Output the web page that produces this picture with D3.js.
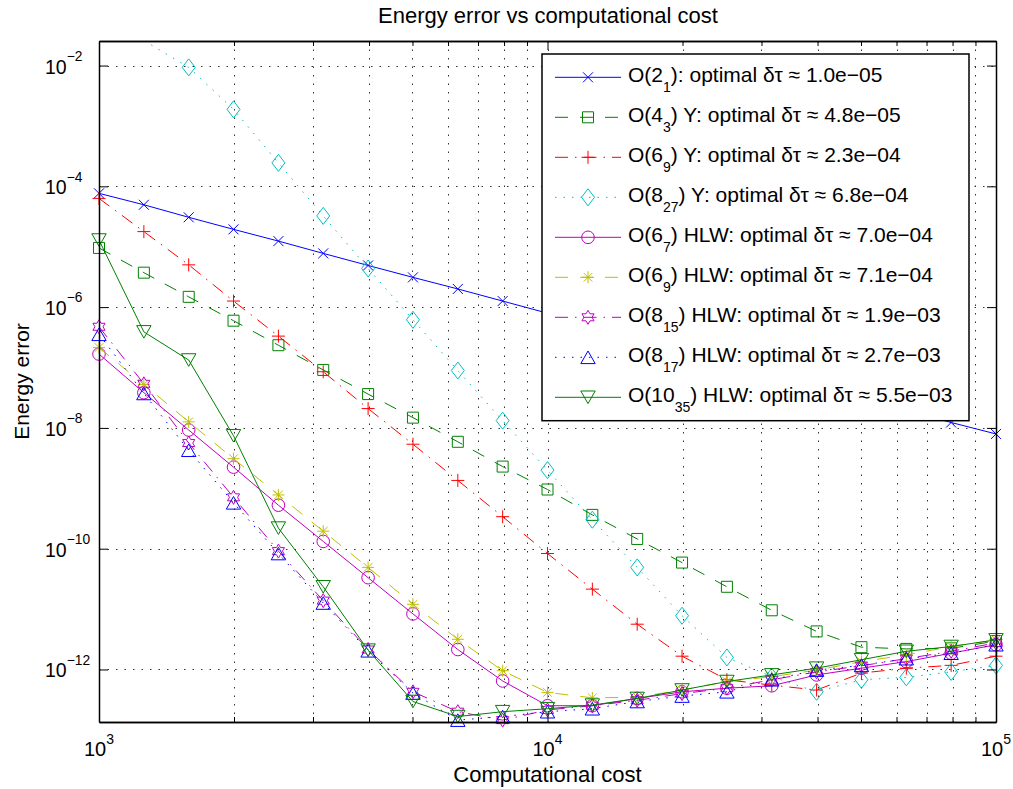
<!DOCTYPE html>
<html><head><meta charset="utf-8">
<script src="https://cdn.jsdelivr.net/npm/d3@7"></script>
<style>
body{margin:0;background:#fff}
text{font-family:"Liberation Sans",Arial,Helvetica,sans-serif;fill:#000}
</style>
</head><body>
<svg id="c" width="1013" height="789"></svg>
<script>
// ---------------- data ----------------
const cost = [1000,1259,1585,1995,2512,3162,3981,5012,6310,7943,10000,12589,15849,19953,25119,31623,39811,50119,63096,79433,100000];

const errO2_1     = [7.66e-5,4.95e-5,3.07e-5,1.94e-5,1.24e-5,7.76e-6,4.90e-6,3.11e-6,2.00e-6,1.26e-6,7.94e-7,5.01e-7,3.16e-7,2.00e-7,1.26e-7,7.94e-8,5.01e-8,3.09e-8,1.95e-8,1.23e-8,7.94e-9];
const errO4_3Y    = [9.55e-6,3.72e-6,1.48e-6,5.96e-7,2.34e-7,9.12e-8,3.63e-8,1.48e-8,5.89e-9,2.29e-9,9.55e-10,3.63e-10,1.45e-10,5.89e-11,2.34e-11,9.55e-12,4.27e-12,2.34e-12,2.19e-12,2.24e-12,2.95e-12];
const errO6_9Y    = [6.31e-5,1.78e-5,5.01e-6,1.26e-6,3.31e-7,8.51e-8,2.09e-8,5.37e-9,1.35e-9,3.39e-10,8.32e-11,2.14e-11,5.62e-12,1.66e-12,6.76e-13,5.50e-13,4.57e-13,8.71e-13,1.05e-12,1.17e-12,1.66e-12];
const errO8_27Y   = [null,2.6e-2,9.33e-3,1.88e-3,2.45e-4,3.24e-5,4.37e-6,6.17e-7,8.91e-8,1.32e-8,2.00e-9,3.02e-10,4.90e-11,7.76e-12,1.58e-12,7.59e-13,4.27e-13,6.76e-13,7.41e-13,9.12e-13,1.17e-12];
const errO6_7HLW  = [1.67e-7,3.83e-8,9.23e-9,2.24e-9,5.25e-10,1.32e-10,3.31e-11,8.32e-12,2.14e-12,6.46e-13,2.51e-13,2.51e-13,3.31e-13,4.27e-13,4.90e-13,5.37e-13,8.13e-13,1.05e-12,1.35e-12,1.86e-12,2.57e-12];
const errO6_9HLW  = [2.14e-7,5.25e-8,1.26e-8,3.09e-9,7.76e-10,1.95e-10,4.90e-11,1.20e-11,3.16e-12,9.55e-13,4.17e-13,3.39e-13,3.47e-13,4.57e-13,6.31e-13,7.59e-13,9.77e-13,1.35e-12,1.74e-12,2.40e-12,3.09e-12];
const errO8_15HLW = [4.73e-7,5.37e-8,5.62e-9,7.08e-10,9.12e-11,1.38e-11,2.14e-12,4.27e-13,2.00e-13,1.45e-13,2.14e-13,2.51e-13,3.09e-13,3.98e-13,4.90e-13,6.76e-13,9.12e-13,1.15e-12,1.51e-12,2.00e-12,2.75e-12];
const errO8_17HLW = [3.55e-7,3.72e-8,4.27e-9,5.75e-10,8.32e-11,1.26e-11,2.04e-12,4.07e-13,1.45e-13,1.66e-13,2.00e-13,2.24e-13,2.95e-13,3.63e-13,4.27e-13,6.76e-13,9.77e-13,1.17e-12,1.51e-12,1.86e-12,2.57e-12];
const errO10_35HLW= [1.29e-5,3.89e-7,1.33e-7,7.41e-9,2.19e-10,2.34e-11,2.09e-12,2.95e-13,1.66e-13,2.00e-13,2.24e-13,2.57e-13,3.31e-13,4.57e-13,6.31e-13,8.13e-13,1.05e-12,1.45e-12,2.00e-12,2.40e-12,3.09e-12];

const seriesValues = [errO2_1, errO4_3Y, errO6_9Y, errO8_27Y, errO6_7HLW, errO6_9HLW, errO8_15HLW, errO8_17HLW, errO10_35HLW];

const orders    = ["2","4","6","8","6","6","8","8","10"];
const stages    = ["1","3","9","27","7","9","15","17","35"];
const methods   = [""," Y"," Y"," Y"," HLW"," HLW"," HLW"," HLW"," HLW"];
const optimalDt = ["1.0e\u221205","4.8e\u221205","2.3e\u221204","6.8e\u221204","7.0e\u221204","7.1e\u221204","1.9e\u221203","2.7e\u221203","5.5e\u221203"];

const xTickValues = [1e3,1e4,1e5];
const xTickExps   = ["3","4","5"];
const yTickValues = [1e-12,1e-10,1e-8,1e-6,1e-4,1e-2];
const yTickExps   = ["\u221212","\u221210","\u22128","\u22126","\u22124","\u22122"];

const titleText = "Energy error vs computational cost";
const xLabel = "Computational cost";
const yLabel = "Energy error";

// ---------------- styles ----------------
const colors  = ["#0000ff","#008000","#ff0000","#00bfbf","#bf00bf","#bfbf00","#bf00bf","#0000ff","#008000"];
const dashes  = [null,"13,12","13,7,1.5,7","1.5,7",null,"13,12","13,7,1.5,7","1.5,7",null];
const markers = ["x","square","plus","diamond","circle","asterisk","hexagram","triUp","triDown"];

function markerPath(type){
  const p = d3.path();
  switch(type){
    case "x": { const s=5; p.moveTo(-s,-s);p.lineTo(s,s);p.moveTo(-s,s);p.lineTo(s,-s); break; }
    case "square": { const s=5.5; p.rect(-s,-s,2*s,2*s); break; }
    case "plus": { const s=6.5; p.moveTo(-s,0);p.lineTo(s,0);p.moveTo(0,-s);p.lineTo(0,s); break; }
    case "diamond": { const w=6.5,h=8.5; p.moveTo(0,-h);p.lineTo(w,0);p.lineTo(0,h);p.lineTo(-w,0);p.closePath(); break; }
    case "circle": { const r=6.3; p.moveTo(r,0);p.arc(0,0,r,0,2*Math.PI); break; }
    case "asterisk": { const s=6, d=4.3; p.moveTo(-s,0);p.lineTo(s,0);p.moveTo(0,-s);p.lineTo(0,s);
                       p.moveTo(-d,-d);p.lineTo(d,d);p.moveTo(-d,d);p.lineTo(d,-d); break; }
    case "hexagram": { const R=7, r=R/Math.sqrt(3);
      for(let i=0;i<12;i++){ const a=-Math.PI/2+i*Math.PI/6, rr=(i%2===0)?R:r;
        const px=rr*Math.cos(a), py=rr*Math.sin(a); if(i===0)p.moveTo(px,py); else p.lineTo(px,py);} p.closePath(); break; }
    case "triUp": { const w=7.2,h=6.3; p.moveTo(0,-h);p.lineTo(w,h);p.lineTo(-w,h);p.closePath(); break; }
    case "triDown": { const w=7.2,h=6.3; p.moveTo(0,h);p.lineTo(w,-h);p.lineTo(-w,-h);p.closePath(); break; }
  }
  return p.toString();
}

// ---------------- layout ----------------
const L=99, R=996, T=41, B=722;
const svg = d3.select("#c");
const x = d3.scaleLog().domain([1e3,1e5]).range([L,R]);
const y = d3.scaleLog().domain([1.35e-13,2.55e-2]).range([B,T]);

svg.append("rect").attr("width",1013).attr("height",789).attr("fill","#fff");
svg.append("rect").attr("x",L).attr("y",T).attr("width",R-L).attr("height",B-T).attr("fill","#fff");

// minor tick positions on the log x axis
const xMinorValues = [];
[1e3,1e4].forEach(d=>{ for(let m=2;m<=9;m++) xMinorValues.push(m*d); });
const xAllTicks = xTickValues.concat(xMinorValues);

// grid
const grid = svg.append("g").attr("stroke","#333").attr("stroke-width",1).attr("stroke-dasharray","1.5,7");
grid.selectAll("line.gx").data(xAllTicks.filter(v=>v>1e3&&v<1e5)).enter().append("line")
  .attr("x1",d=>Math.round(x(d))+0.5).attr("x2",d=>Math.round(x(d))+0.5).attr("y1",T).attr("y2",B);
grid.selectAll("line.gy").data(yTickValues).enter().append("line")
  .attr("y1",d=>Math.round(y(d))+0.5).attr("y2",d=>Math.round(y(d))+0.5).attr("x1",L).attr("x2",R);

// clip
svg.append("clipPath").attr("id","plotclip").append("rect").attr("x",L).attr("y",T).attr("width",R-L).attr("height",B-T);

const line = d3.line().defined(d=>d[1]!=null).x(d=>x(d[0])).y(d=>y(d[1]));
const [ymin,ymax] = y.domain();

seriesValues.forEach((vals,i)=>{
  const pts = cost.map((c,k)=>[c,vals[k]]);
  svg.append("path").datum(pts).attr("clip-path","url(#plotclip)")
    .attr("d",line).attr("fill","none").attr("stroke",colors[i]).attr("stroke-width",1)
    .attr("stroke-dasharray",dashes[i]);
  const mp = markerPath(markers[i]);
  svg.append("g").selectAll("path").data(pts.filter(d=>d[1]!=null && d[1]>=ymin && d[1]<=ymax)).enter().append("path")
    .attr("d",mp).attr("transform",d=>`translate(${x(d[0])},${y(d[1])})`)
    .attr("fill","none").attr("stroke",colors[i]).attr("stroke-width",1);
});

// axes
function styleAxis(g){ g.select(".domain").attr("stroke","#000").attr("stroke-width",1.5); g.selectAll(".tick line").attr("stroke","#000").attr("stroke-width",1); g.selectAll(".tick text").remove(); }
svg.append("g").attr("transform",`translate(0,${B})`).call(d3.axisBottom(x).tickValues(xTickValues).tickSizeInner(-9).tickSizeOuter(0).tickFormat("")).call(styleAxis);
svg.append("g").attr("transform",`translate(0,${B})`).call(d3.axisBottom(x).tickValues(xMinorValues).tickSizeInner(-5).tickSizeOuter(0).tickFormat("")).call(styleAxis);
svg.append("g").attr("transform",`translate(0,${T})`).call(d3.axisTop(x).tickValues(xTickValues).tickSizeInner(-9).tickSizeOuter(0).tickFormat("")).call(styleAxis);
svg.append("g").attr("transform",`translate(0,${T})`).call(d3.axisTop(x).tickValues(xMinorValues).tickSizeInner(-5).tickSizeOuter(0).tickFormat("")).call(styleAxis);
svg.append("g").attr("transform",`translate(${L},0)`).call(d3.axisLeft(y).tickValues(yTickValues).tickSizeInner(-9).tickSizeOuter(0).tickFormat("")).call(styleAxis);
svg.append("g").attr("transform",`translate(${R},0)`).call(d3.axisRight(y).tickValues(yTickValues).tickSizeInner(-9).tickSizeOuter(0).tickFormat("")).call(styleAxis);

// tick labels
xTickValues.forEach((v,i)=>{
  const t = svg.append("text").attr("x",x(v)).attr("y",756).attr("text-anchor","middle").style("font-size","20px");
  t.append("tspan").text("10");
  t.append("tspan").attr("dy",-12).style("font-size","14px").text(xTickExps[i]);
});
yTickValues.forEach((v,i)=>{
  const t = svg.append("text").attr("x",45).attr("y",y(v)+8).attr("text-anchor","start").style("font-size","19.5px");
  t.append("tspan").text("10");
  t.append("tspan").attr("dy",-12.7).style("font-size","13.8px").text(yTickExps[i]);
});

// titles
svg.append("text").attr("x",548).attr("y",23).attr("text-anchor","middle").style("font-size","22px").text(titleText);
svg.append("text").attr("x",(L+R)/2).attr("y",782).attr("text-anchor","middle").style("font-size","22px").text(xLabel);
svg.append("text").attr("transform",`translate(28.5,${(T+B)/2}) rotate(-90)`).attr("text-anchor","middle").style("font-size","21px").text(yLabel);

// legend
const lg = svg.append("g");
lg.append("rect").attr("x",542).attr("y",54).attr("width",427).attr("height",366.7).attr("fill","#fff").attr("stroke","#000").attr("stroke-width",1.5);
seriesValues.forEach((vals,i)=>{
  const ry = 77.3 + 40*i;
  lg.append("line").attr("x1",555).attr("x2",621).attr("y1",ry).attr("y2",ry)
    .attr("stroke",colors[i]).attr("stroke-width",1).attr("stroke-dasharray",dashes[i]);
  lg.append("path").attr("d",markerPath(markers[i])).attr("transform",`translate(588,${ry})`)
    .attr("fill","none").attr("stroke",colors[i]).attr("stroke-width",1);
  const t = lg.append("text").attr("x",628).attr("y",ry+4.4).style("font-size","21px");
  t.append("tspan").text("O(" + orders[i]);
  t.append("tspan").attr("dy",10).style("font-size","14px").text(stages[i]);
  t.append("tspan").attr("dy",-10).text(")" + methods[i] + ": optimal \u03b4\u03c4 \u2248 " + optimalDt[i]);
});
</script>
</body></html>
